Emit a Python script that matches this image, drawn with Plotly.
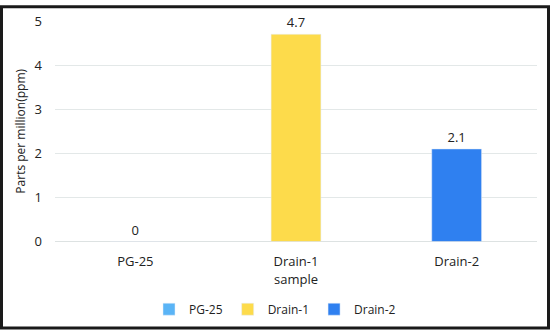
import plotly.graph_objects as go

categories = ["PG-25", "Drain-1", "Drain-2"]
values = [0, 4.7, 2.1]
colors = ["#5AB4F6", "#FDDB4B", "#2F80F0"]

W, H = 550, 332
ml, mr, mt, mb = 55, 13, 16, 90

fig = go.Figure()
for c, v, col in zip(categories, values, colors):
    fig.add_trace(go.Bar(
        x=[c], y=[v], name=c, marker_color=col, width=0.31,
        text=[str(v)], textposition="outside", cliponaxis=False,
        textfont=dict(size=13, color="#222"),
    ))

fig.update_layout(
    width=W, height=H,
    margin=dict(l=ml, r=mr, t=mt, b=mb),
    paper_bgcolor="white", plot_bgcolor="white",
    font=dict(family="Open Sans", size=13, color="#222"),
    barmode="overlay",
    showlegend=True,
    legend=dict(orientation="h", xref="container", x=0.5, xanchor="center",
                yref="container", y=0.025, yanchor="bottom",
                font=dict(size=12), itemwidth=30, tracegroupgap=0,
                traceorder="normal"),
    xaxis=dict(title=dict(text="sample", standoff=4, font=dict(size=13)), showgrid=False,
               showline=False, ticks="", tickfont=dict(size=13), ticklabelstandoff=10),
    yaxis=dict(title=dict(text="Parts per million(ppm)", standoff=6, font=dict(size=12)),
               range=[0, 5], dtick=1, showgrid=True, gridcolor="#E3E8E8",
               zeroline=True, zerolinecolor="#DDE2E2", zerolinewidth=1,
               ticks="", tickfont=dict(size=13), ticklabelstandoff=12),
)

# dark frame around the whole image
pw = W - ml - mr
ph = H - mt - mb
fig.add_shape(type="rect", xref="paper", yref="paper",
              x0=(1.5 - ml) / pw, x1=(W - 1.5 - ml) / pw,
              y0=-(mb - 1.5) / ph, y1=(ph + mt - 1.5) / ph,
              line=dict(color="#1a1a1a", width=3), fillcolor="rgba(0,0,0,0)")

fig.write_html("out.html")
